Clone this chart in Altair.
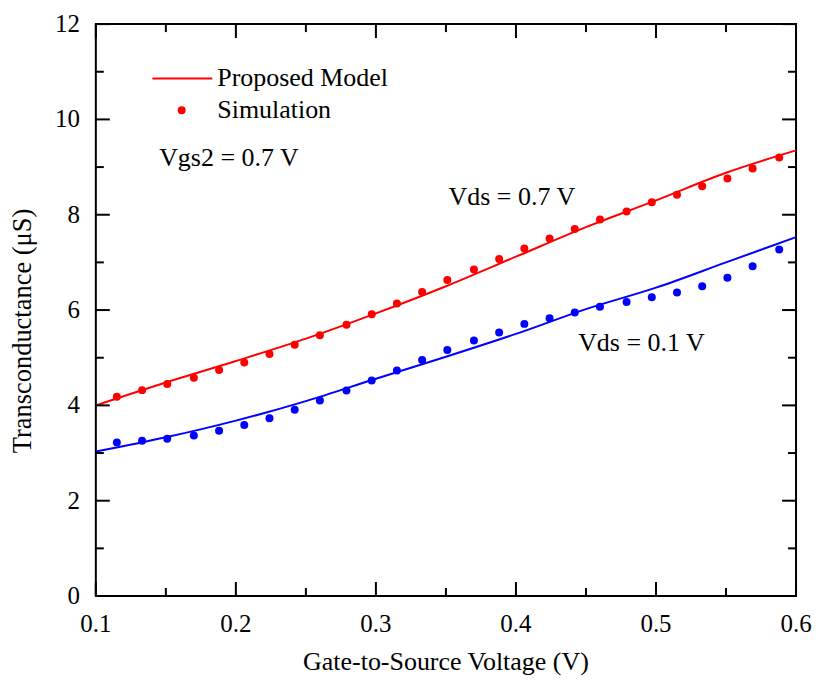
import altair as alt
import pandas as pd

# ---------------- data ----------------
sim_x = [0.115, 0.133, 0.151, 0.170, 0.188, 0.206, 0.224, 0.242, 0.260,
         0.279, 0.297, 0.315, 0.333, 0.351, 0.370, 0.388, 0.406, 0.424,
         0.442, 0.460, 0.479, 0.497, 0.515, 0.533, 0.551, 0.569, 0.588]
sim_vds07 = [4.18, 4.32, 4.45, 4.58, 4.74, 4.90, 5.08, 5.27, 5.47, 5.69,
             5.91, 6.14, 6.38, 6.63, 6.85, 7.07, 7.29, 7.50, 7.70, 7.90,
             8.07, 8.26, 8.42, 8.60, 8.76, 8.97, 9.20]
sim_vds01 = [3.22, 3.26, 3.30, 3.37, 3.47, 3.59, 3.73, 3.91, 4.10, 4.31,
             4.52, 4.73, 4.95, 5.16, 5.36, 5.53, 5.71, 5.83, 5.95, 6.07,
             6.17, 6.27, 6.37, 6.50, 6.68, 6.92, 7.27]

model_x = [0.10, 0.15, 0.20, 0.25, 0.30, 0.35, 0.40, 0.45, 0.50, 0.55, 0.60]
model_vds07 = [4.00, 4.48, 4.93, 5.40, 5.93, 6.50, 7.12, 7.74, 8.30, 8.88, 9.35]
model_vds01 = [3.03, 3.33, 3.68, 4.09, 4.56, 5.02, 5.50, 6.02, 6.47, 7.00, 7.53]

series = ["Vds = 0.7 V", "Vds = 0.1 V"]
colors = ["#ff0000", "#0000ff"]

x_major = [0.1, 0.2, 0.3, 0.4, 0.5, 0.6]
x_major_labels = ["0.1", "0.2", "0.3", "0.4", "0.5", "0.6"]
x_minor = [0.15, 0.25, 0.35, 0.45, 0.55]
y_major = [0, 2, 4, 6, 8, 10, 12]
y_major_labels = ["0", "2", "4", "6", "8", "10", "12"]
y_minor = [1, 3, 5, 7, 9, 11]

x_title = "Gate-to-Source Voltage (V)"
y_title = "Transconductance (\u03bcS)"

# annotation texts (data coordinates)
ann_text = ["Proposed Model", "Simulation", "Vgs2 = 0.7 V", "Vds = 0.7 V", "Vds = 0.1 V"]
ann_x = [0.1867, 0.1867, 0.1452, 0.3519, 0.4444]
ann_y = [10.86, 10.19, 9.18, 8.37, 5.30]

legend_line_x = [0.1404]
legend_line_x2 = [0.1832]
legend_line_y = [10.86]
legend_dot_x = [0.1613]
legend_dot_y = [10.19]

# ---------------- tables ----------------
sim = pd.DataFrame({
    "x": sim_x + sim_x,
    "y": sim_vds07 + sim_vds01,
    "s": [series[0]] * len(sim_x) + [series[1]] * len(sim_x),
})
model = pd.DataFrame({
    "x": model_x + model_x,
    "y": model_vds07 + model_vds01,
    "s": [series[0]] * len(model_x) + [series[1]] * len(model_x),
})
ann = pd.DataFrame({"x": ann_x, "y": ann_y, "t": ann_text})
leg_line = pd.DataFrame({"x": legend_line_x, "x2": legend_line_x2, "y": legend_line_y})
leg_dot = pd.DataFrame({"x": legend_dot_x, "y": legend_dot_y})
xlab = pd.DataFrame({"v": x_major, "t": x_major_labels})
ylab = pd.DataFrame({"v": y_major, "t": y_major_labels})

FONT = "Liberation Serif"
W, H = 701.5, 573
MAJ, MIN = 14, 8
xs = alt.Scale(domain=[0.1, 0.6], nice=False, zero=False)
ys = alt.Scale(domain=[0, 12], nice=False, zero=False)
color = alt.Color("s:N", scale=alt.Scale(domain=series, range=colors), legend=None)

lines = alt.Chart(model).mark_line(strokeWidth=2, interpolate="monotone").encode(
    x=alt.X("x:Q", scale=xs, axis=None),
    y=alt.Y("y:Q", scale=ys, axis=None),
    color=color,
    detail="s:N",
)

points = alt.Chart(sim).mark_circle(size=64, opacity=1).encode(
    x=alt.X("x:Q", scale=xs, axis=None),
    y=alt.Y("y:Q", scale=ys, axis=None),
    color=color,
)


# inward ticks on all four sides, positioned by the shared scales
def xticks(vals, y0, y1):
    return alt.Chart(pd.DataFrame({"v": vals})).mark_rule(color="black", strokeWidth=2).encode(
        x=alt.X("v:Q", scale=xs, axis=None), y=alt.value(y0), y2=alt.value(y1))


def yticks(vals, x0, x1):
    return alt.Chart(pd.DataFrame({"v": vals})).mark_rule(color="black", strokeWidth=2).encode(
        y=alt.Y("v:Q", scale=ys, axis=None), x=alt.value(x0), x2=alt.value(x1))


tick_layers = [
    xticks(x_major, H, H - MAJ), xticks(x_minor, H, H - MIN),
    xticks(x_major, 0, MAJ), xticks(x_minor, 0, MIN),
    yticks(y_major, 0, MAJ), yticks(y_minor, 0, MIN),
    yticks(y_major, W, W - MAJ), yticks(y_minor, W, W - MIN),
]

# tick labels, placed by the scales
xlabels = alt.Chart(xlab).mark_text(align="center", baseline="top", font=FONT,
                                    fontSize=25, color="black").encode(
    x=alt.X("v:Q", scale=xs, axis=None), y=alt.value(H + 16), text="t:N")
ylabels = alt.Chart(ylab).mark_text(align="right", baseline="middle", font=FONT,
                                    fontSize=25, color="black").encode(
    y=alt.Y("v:Q", scale=ys, axis=None), x=alt.value(-16), text="t:N")

# axis titles
xtitle = alt.Chart(pd.DataFrame({"t": [x_title]})).mark_text(
    align="center", baseline="alphabetic", font=FONT, fontSize=26, color="black"
).encode(x=alt.value(W / 2), y=alt.value(647.5), text="t:N")
ytitle = alt.Chart(pd.DataFrame({"t": [y_title]})).mark_text(
    align="center", baseline="alphabetic", font=FONT, fontSize=26.5, color="black", angle=270
).encode(x=alt.value(-65), y=alt.value(307.5), text="t:N")

texts = alt.Chart(ann).mark_text(align="left", baseline="middle", font=FONT,
                                 fontSize=26, color="black").encode(
    x=alt.X("x:Q", scale=xs, axis=None),
    y=alt.Y("y:Q", scale=ys, axis=None),
    text="t:N",
)
leg_rule = alt.Chart(leg_line).mark_rule(color="#ff0000", strokeWidth=2).encode(
    x=alt.X("x:Q", scale=xs, axis=None),
    x2="x2:Q",
    y=alt.Y("y:Q", scale=ys, axis=None),
)
leg_pt = alt.Chart(leg_dot).mark_circle(size=64, opacity=1, color="#ff0000").encode(
    x=alt.X("x:Q", scale=xs, axis=None),
    y=alt.Y("y:Q", scale=ys, axis=None),
)

chart = alt.layer(lines, points, *tick_layers, xlabels, ylabels, xtitle, ytitle,
                  leg_rule, leg_pt, texts).properties(
    width=W,
    height=H,
    autosize=alt.AutoSizeParams(type="none"),
    padding={"left": 88, "top": 15.5, "right": 16, "bottom": 80},
    background="white",
).configure_view(stroke="black", strokeWidth=2)

chart.save("out.html", embed_options={"renderer": "svg", "actions": False})
